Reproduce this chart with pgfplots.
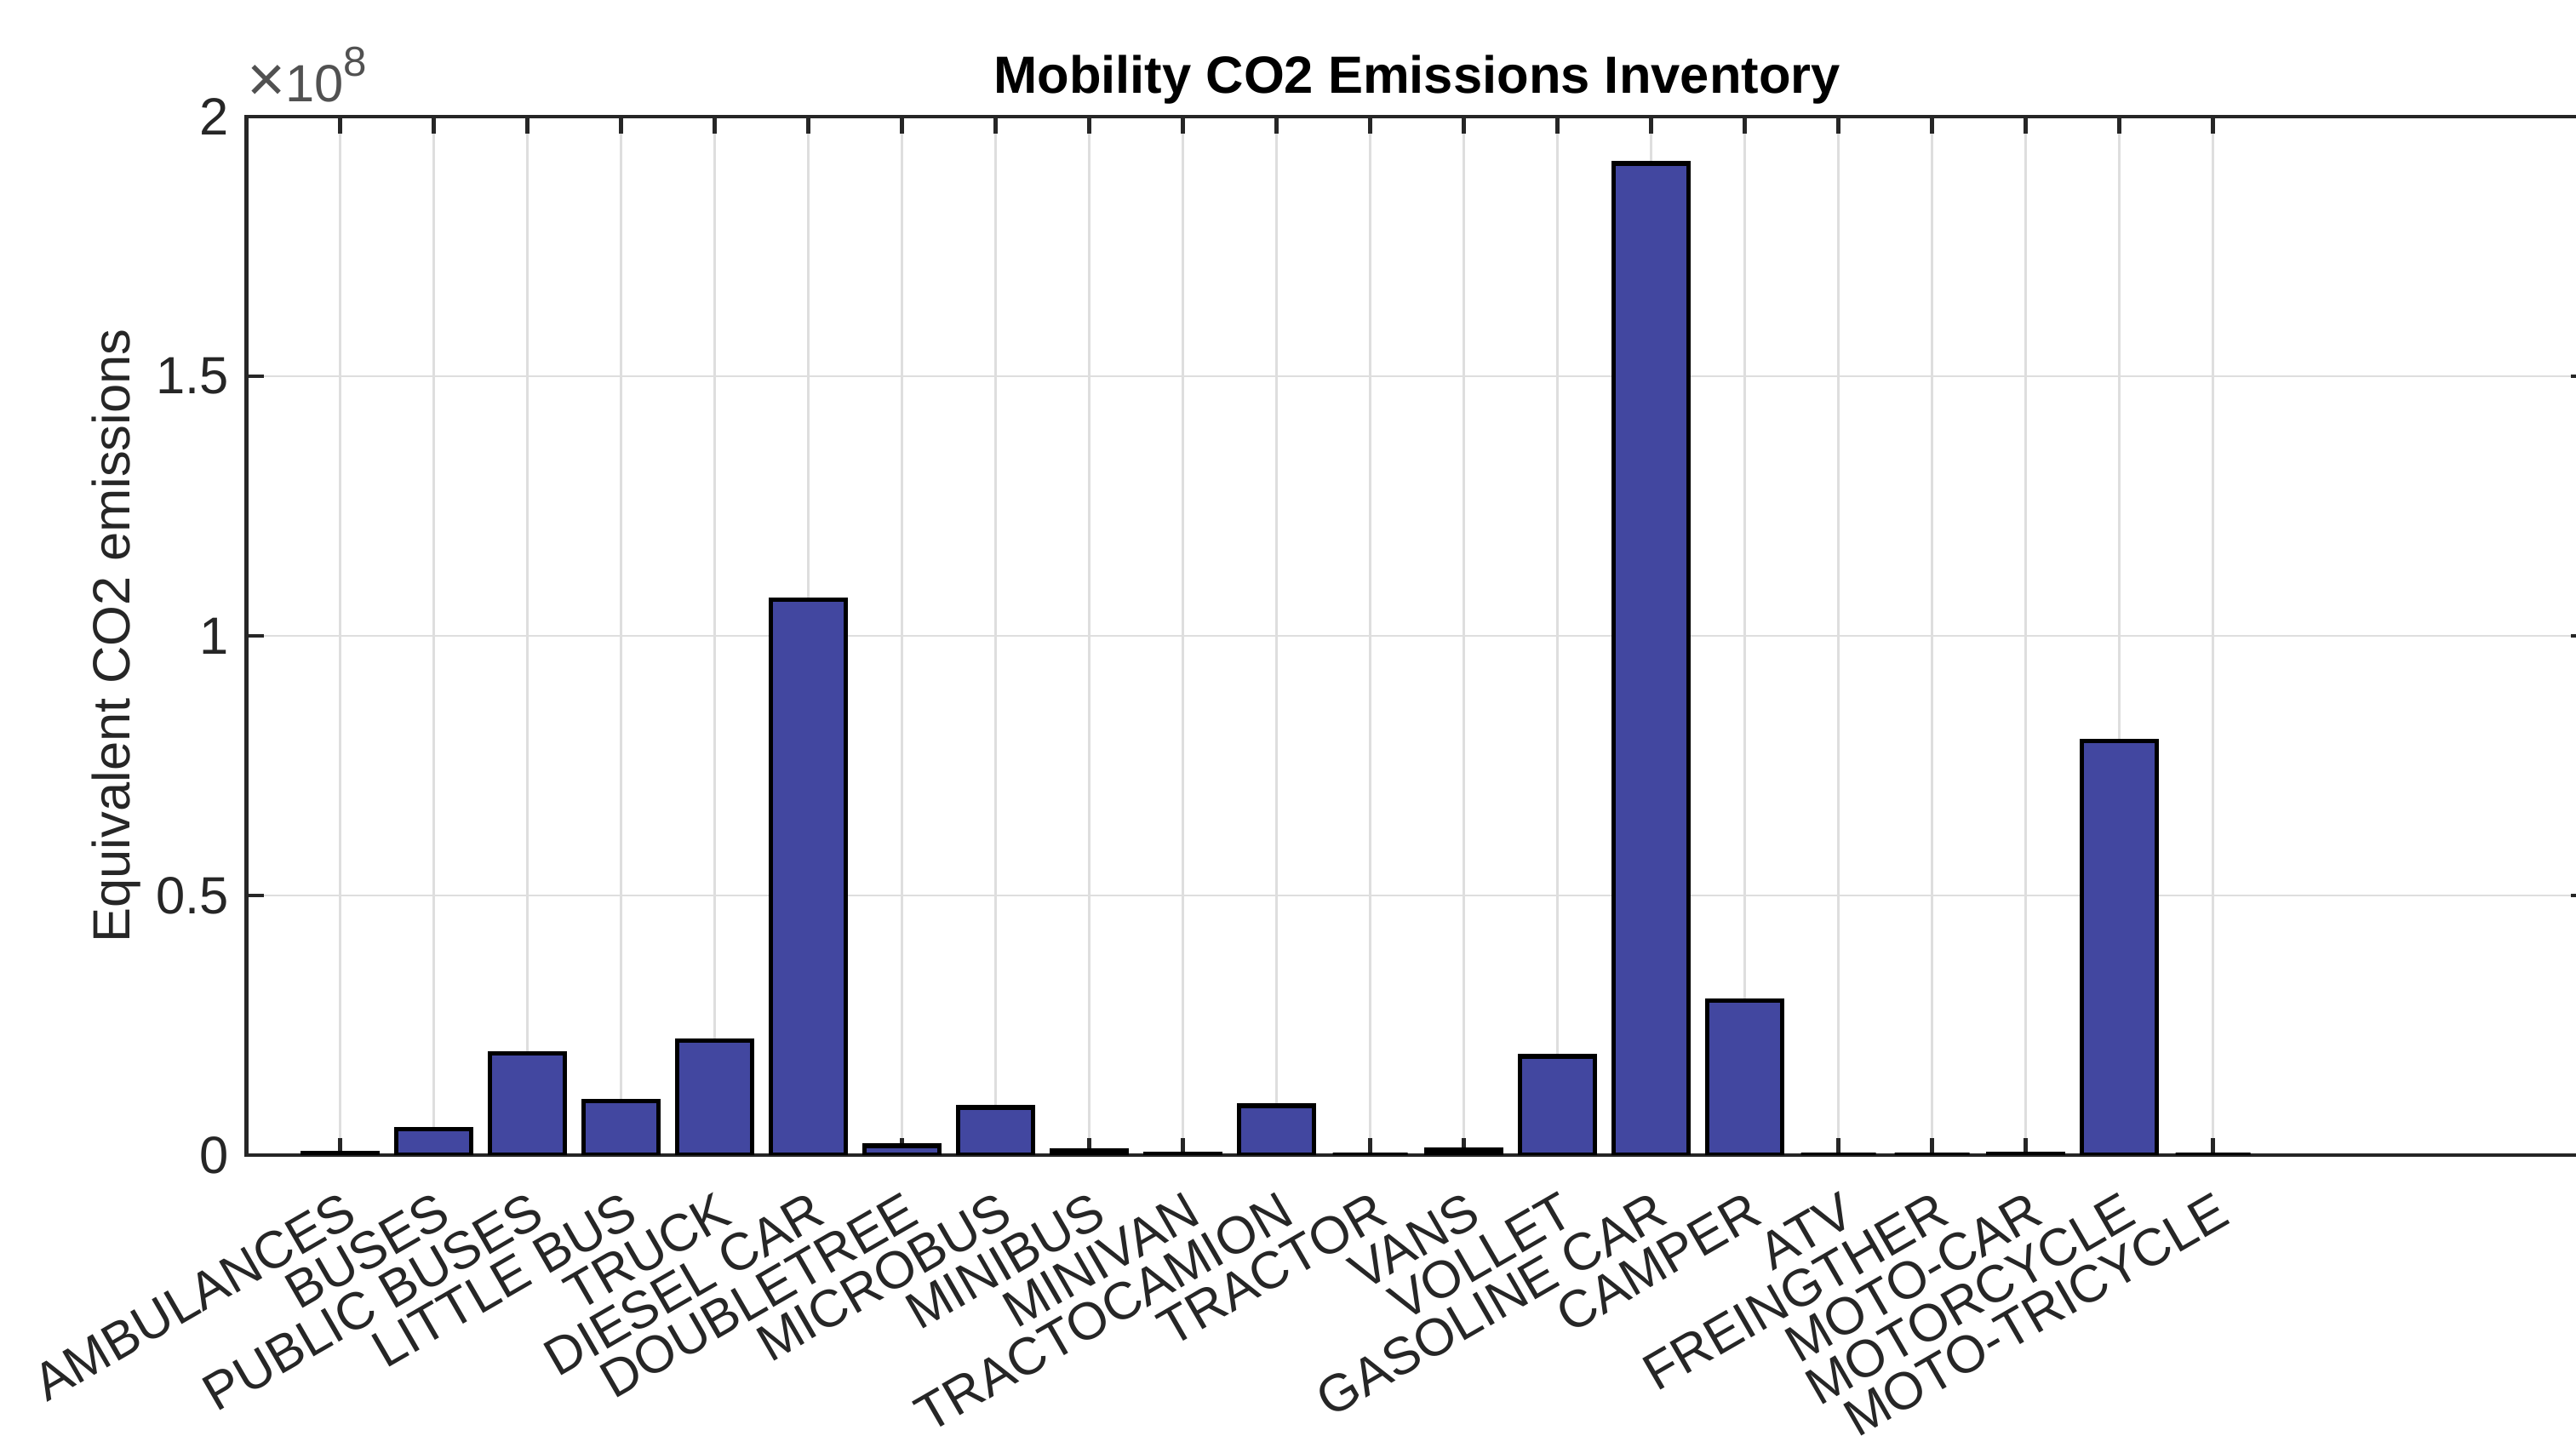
\documentclass[border=0pt]{standalone}
\usepackage{fontspec}
\setmainfont{Liberation Sans}
\usepackage{pgfplots}
\pgfplotsset{compat=1.18}
\usetikzlibrary{calc}
\definecolor{barblue}{RGB}{66,71,160}
\definecolor{axgray}{RGB}{38,38,38}
\definecolor{gridgray}{RGB}{222,222,222}
\begin{document}
\begin{tikzpicture}
\begin{axis}[
  name=ax,
  scale only axis,
  width=27.5cm, height=12.2cm,
  xmin=0, xmax=25, ymin=0, ymax=2e8,
  xtick={1,...,21},
  xticklabels={AMBULANCES,BUSES,PUBLIC BUSES,LITTLE BUS,TRUCK,DIESEL CAR,DOUBLETREE,MICROBUS,MINIBUS,MINIVAN,TRACTOCAMION,TRACTOR,VANS,VOLLET,GASOLINE CAR,CAMPER,ATV,FREINGTHER,MOTO-CAR,MOTORCYCLE,MOTO-TRICYCLE},
  ytick={0,0.5e8,1e8,1.5e8,2e8},
  yticklabels={0,0.5,1,1.5,2},
  scaled y ticks=false,
  tick align=inside,
  major tick length=0.2cm,
  grid=major,
  major grid style={gridgray, line width=0.7pt},
  axis line style={axgray, line width=1.3pt},
  tick style={axgray, line width=1.2pt},
  font=\fontsize{17.5}{21}\selectfont,
  ticklabel style={text=axgray, inner sep=0pt, font=\fontsize{17.5}{21}\selectfont},
  yticklabel style={anchor=east, xshift=-0.2cm},
  xticklabel style={xshift=0.13cm, yshift=-0.6cm, rotate=30, anchor=east},
  ylabel={Equivalent CO2 emissions},
  ylabel style={at={(axis description cs:-0.0555,0.5)}, anchor=center, text=axgray, inner sep=0pt, font=\fontsize{17.5}{21}\selectfont},
  title={Mobility CO2 Emissions Inventory},
  title style={at={(axis description cs:0.5,1)}, anchor=base, yshift=0.06cm, inner sep=0pt, font=\bfseries\fontsize{17.5}{21}\selectfont},
]
\addplot[ybar, bar width=0.8, fill=barblue, draw=black, line width=1.5pt] coordinates {
(1,4e5) (2,5.0e6) (3,1.96e7) (4,1.04e7) (5,2.2e7) (6,1.07e8) (7,1.8e6)
(8,9.2e6) (9,9e5) (10,2e5) (11,9.5e6) (12,0) (13,1e6) (14,1.9e7)
(15,1.91e8) (16,2.97e7) (17,0) (18,0) (19,2e5) (20,7.97e7) (21,0)
};
\end{axis}
\node[anchor=base west, text=axgray!80, inner sep=0pt, font=\fontsize{17.5}{21}\selectfont] at ($(ax.north west)+(0,0.17cm)$) {{\fontsize{22}{22}\selectfont×}10\raisebox{0.5em}{\fontsize{14}{14}\selectfont 8}};
\pgfresetboundingbox
\path[use as bounding box] ($(ax.south west)+(-2.895cm,-3.30cm)$) rectangle ($(ax.north east)+(-0.135cm,1.37cm)$);
\end{tikzpicture}
\end{document}
